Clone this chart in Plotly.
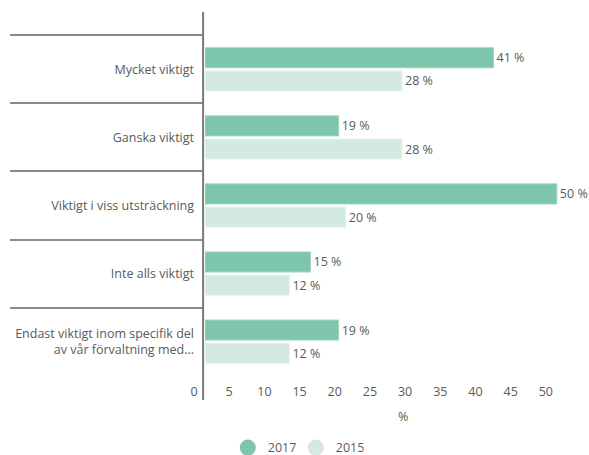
import plotly.graph_objects as go

categories = [
    "Mycket viktigt",
    "Ganska viktigt",
    "Viktigt i viss utsträckning",
    "Inte alls viktigt",
    "Endast viktigt inom specifik del<br>av vår förvaltning med...",
]
values_2017 = [41, 19, 50, 15, 19]
values_2015 = [28, 28, 20, 12, 12]
series_names = ["2017", "2015"]
x_ticks = [0, 5, 10, 15, 20, 25, 30, 35, 40, 45, 50]

col_2017 = "#7dc6ab"
col_2015 = "#d3eae2"
txt = "#5a5a5a"
font_family = "Open Sans"
fs = 12.5

fig = go.Figure()
for name, vals, col, edge in [
    (series_names[0], values_2017, col_2017, "#a3d7c4"),
    (series_names[1], values_2015, col_2015, "#e6f3ee"),
]:
    fig.add_trace(go.Bar(
        y=categories, x=vals, orientation="h", name=name,
        marker=dict(color=col, line=dict(color=edge, width=1)),
        text=[f"{v} %" for v in vals], textposition="outside",
        textfont=dict(color=txt, size=fs, family=font_family),
        cliponaxis=False, showlegend=False, hoverinfo="skip",
    ))
    fig.add_trace(go.Scatter(
        x=[None], y=[None], mode="markers", name=name,
        marker=dict(color=col, size=16, symbol="circle"),
        showlegend=True,
    ))

fig.add_shape(type="line", xref="paper", yref="paper",
              x0=-0.005, x1=-0.005, y0=-0.0704, y1=1.0674,
              line=dict(color="#7a7a7a", width=2))

fig.add_annotation(text="%", xref="paper", yref="paper",
                   x=0.521, y=-0.12, xanchor="center", yanchor="middle",
                   showarrow=False, font=dict(size=fs, color=txt, family=font_family))

fig.update_layout(
    width=589, height=455,
    margin=dict(l=205, r=4, t=35, b=79, autoexpand=False),
    paper_bgcolor="white", plot_bgcolor="white",
    font=dict(family=font_family, size=fs, color=txt),
    barmode="group", bargap=0.32, bargroupgap=0.13,
    legend=dict(orientation="h", x=0.06, xanchor="left", y=-0.211, yanchor="middle",
                font=dict(size=fs, color=txt), entrywidth=23),
    xaxis=dict(range=[0, 54], tickvals=x_ticks, showgrid=False, zeroline=False,
               showline=False, ticks="", ticklabelshift=-11, ticklabelstandoff=6,
               automargin=False, tickfont=dict(size=fs, color=txt)),
    yaxis=dict(range=[4.505, -0.505], categoryorder="array", categoryarray=categories,
               showgrid=False, zeroline=False, showline=False, automargin=False,
               ticks="outside", ticklen=194, tickwidth=1.5, tickcolor="#8c8c8c",
               tickson="boundaries", ticklabelstandoff=10,
               tickfont=dict(size=fs, color=txt)),
)

fig.write_html(
    "out.html",
    config={"displayModeBar": False},
    post_script="document.body.style.margin='0';document.body.style.overflow='hidden';",
)
